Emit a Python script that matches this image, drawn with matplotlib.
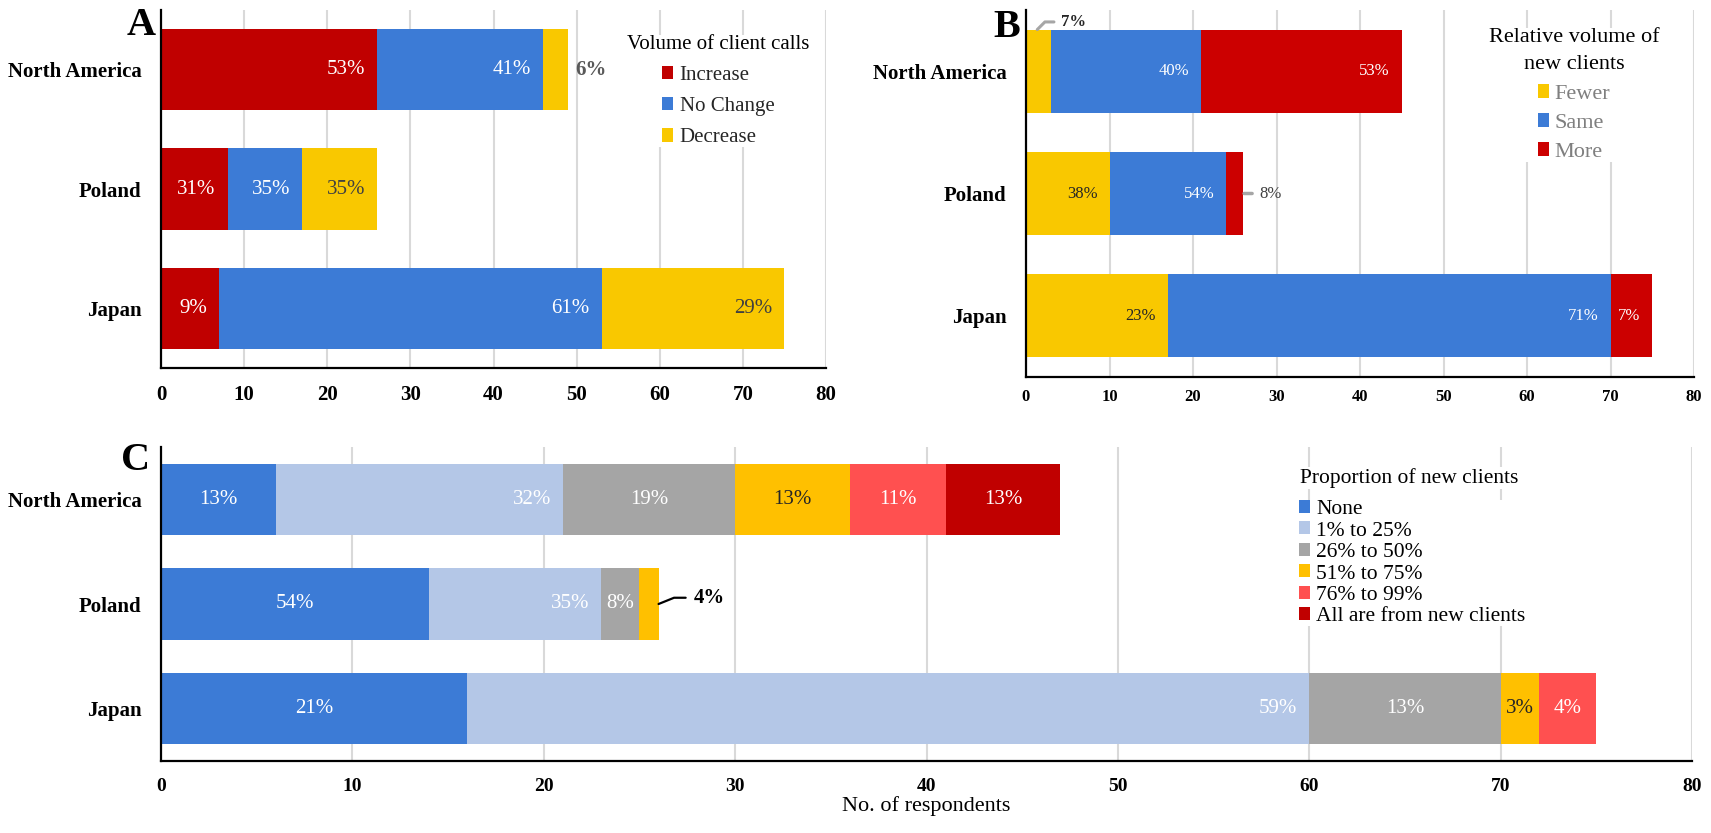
import numpy as np
import matplotlib
matplotlib.use('Agg')
import matplotlib.pyplot as plt

plt.rcParams['font.family'] = ['Liberation Serif', 'DejaVu Serif']

W, H = 1711, 833

regions = ['North America', 'Poland', 'Japan']

# A: volume of client calls (no. of respondents)
calls_names = ['Increase', 'No Change', 'Decrease']
calls_increase = [26, 8, 7]
calls_nochange = [20, 9, 46]
calls_decrease = [3, 9, 22]

# B: relative volume of new clients
new_names = ['Fewer', 'Same', 'More']
new_fewer = [3, 10, 17]
new_same = [18, 14, 53]
new_more = [24, 2, 5]

# C: proportion of new clients
prop_names = ['None', '1% to 25%', '26% to 50%', '51% to 75%', '76% to 99%',
              'All are from new clients']
prop_none = [6, 14, 16]
prop_1_25 = [15, 9, 44]
prop_26_50 = [9, 2, 10]
prop_51_75 = [6, 1, 2]
prop_76_99 = [5, 0, 3]
prop_all = [6, 0, 0]

xticks = list(range(0, 81, 10))


def fx(px):
    return px / W


def fy(py):
    return 1 - py / H


def add_axes(fig, left, top, right, bottom):
    return fig.add_axes([fx(left), fy(bottom), fx(right) - fx(left), (bottom - top) / H])


def pct(v, total):
    return '%d%%' % int(100.0 * v / total + 0.5)


def stacked(ax, series, names, colors, txtcolors, modes, fs, skip=()):
    totals = np.sum(np.array(series, dtype=float), axis=0)
    left = np.zeros(len(regions))
    containers = []
    for i, vals in enumerate(series):
        vals = np.array(vals, dtype=float)
        bars = ax.barh(regions, vals, left=left, height=0.68, color=colors[i],
                       label=names[i], zorder=2)
        containers.append(bars)
        for j, b in enumerate(bars):
            if vals[j] == 0 or (i, j) in skip:
                continue
            yc = b.get_y() + b.get_height() / 2
            txt = pct(vals[j], totals[j])
            if modes[i] == 'end':
                ax.annotate(txt, xy=(b.get_x() + b.get_width(), yc), xytext=(-8.6, 0),
                            textcoords='offset points', ha='right', va='center',
                            fontsize=fs, color=txtcolors[i], zorder=3)
            else:
                ax.text(b.get_x() + b.get_width() / 2, yc, txt, ha='center', va='center',
                        fontsize=fs, color=txtcolors[i], zorder=3)
        left += vals
    return containers, totals


def style(ax, tick_fs, tick_pad):
    ax.set_xlim(0, 80)
    ax.set_ylim(2.5, -0.5)
    ax.set_xticks(xticks)
    ax.grid(axis='x', color='#D9D9D9', lw=1.5)
    ax.set_axisbelow(True)
    for s in ['top', 'right']:
        ax.spines[s].set_visible(False)
    for s in ['left', 'bottom']:
        ax.spines[s].set_color('black')
        ax.spines[s].set_linewidth(1.6)
        ax.spines[s].set_zorder(4)
    ax.tick_params(axis='x', length=0, pad=tick_pad, labelsize=tick_fs)
    ax.tick_params(axis='y', length=0, pad=14, labelsize=15)
    for lab in ax.get_xticklabels() + ax.get_yticklabels():
        lab.set_fontweight('bold')


fig = plt.figure(figsize=(W / 100, H / 100), dpi=100)

# ---------------- A ----------------
axA = add_axes(fig, 161, 10, 826, 368)
colA = ['#C00000', '#3C7BD6', '#F9C800']
contA, totA = stacked(axA, [calls_increase, calls_nochange, calls_decrease], calls_names, colA,
                      ['white', 'white', '#404040'], ['end', 'end', 'end'], 15, skip=[(2, 0)])
b = contA[2][0]
axA.annotate(pct(calls_decrease[0], totA[0]), xy=(b.get_x() + b.get_width(), b.get_y() + b.get_height() / 2),
             xytext=(5, 0), textcoords='offset points', ha='left', va='center',
             fontsize=15, fontweight='bold', color='#595959')
style(axA, 15, 12.5)
legA = axA.legend(loc='upper left', bbox_to_anchor=(fx(627), fy(35)), bbox_transform=fig.transFigure,
                  title='Volume of client calls', fontsize=15, title_fontsize=15, frameon=True,
                  facecolor='white', edgecolor='none', framealpha=1, fancybox=False, borderpad=0,
                  borderaxespad=0, handlelength=0.55, handleheight=0.6, handletextpad=0.3,
                  labelspacing=0.58, labelcolor='#262626')
legA.set_zorder(5)
fig.text(fx(127), fy(35), 'A', fontsize=29, fontweight='bold', ha='left', va='baseline')

# ---------------- B ----------------
axB = add_axes(fig, 1026, 10, 1694, 377)
colB = ['#F9C800', '#3C7BD6', '#CC0000']
contB, totB = stacked(axB, [new_fewer, new_same, new_more], new_names, colB,
                      ['#262626', 'white', 'white'], ['end', 'end', 'end'], 12,
                      skip=[(0, 0), (2, 1)])
b = contB[0][0]
axB.annotate(pct(new_fewer[0], totB[0]), xy=(b.get_x() + b.get_width() * 0.45, b.get_y()),
             xytext=(17, 5.5), textcoords='offset points', ha='left', va='center',
             fontsize=12, fontweight='bold', color='#262626',
             arrowprops=dict(arrowstyle='-', color='#A6A6A6', lw=2.2,
                             connectionstyle='angle,angleA=180,angleB=45', shrinkA=3, shrinkB=0))
b = contB[2][1]
axB.annotate(pct(new_more[1], totB[1]), xy=(b.get_x() + b.get_width(), b.get_y() + b.get_height() / 2),
             xytext=(11.5, 0), textcoords='offset points', ha='left', va='center',
             fontsize=12, color='#404040',
             arrowprops=dict(arrowstyle='-', color='#A6A6A6', lw=2.5, shrinkA=3, shrinkB=0.7))
style(axB, 12, 8.6)
legB = axB.legend(loc='upper left', bbox_to_anchor=(fx(1489), fy(28)), bbox_transform=fig.transFigure,
                  title='Relative volume of\nnew clients', fontsize=16, title_fontsize=16, frameon=True,
                  facecolor='white', edgecolor='none', framealpha=1, fancybox=False, borderpad=0,
                  borderaxespad=0, handlelength=0.5, handleheight=0.6, handletextpad=0.25,
                  labelspacing=0.42, labelcolor='#7F7F7F')
legB.get_title().set_multialignment('center')
legB.get_title().set_linespacing(1.6)
legB.set_zorder(5)
fig.text(fx(993), fy(37), 'B', fontsize=29, fontweight='bold', ha='left', va='baseline')

# ---------------- C ----------------
axC = add_axes(fig, 161, 447, 1692, 761)
colC = ['#3C7BD6', '#B4C7E7', '#A5A5A5', '#FFC000', '#FF5050', '#C00000']
contC, totC = stacked(axC, [prop_none, prop_1_25, prop_26_50, prop_51_75, prop_76_99, prop_all],
                      prop_names, colC, ['white', 'white', 'white', '#262626', 'white', 'white'],
                      ['center', 'end', 'center', 'center', 'center', 'center'], 15, skip=[(3, 1)])
b = contC[3][1]
axC.annotate(pct(prop_51_75[1], totC[1]), xy=(b.get_x() + b.get_width(), b.get_y() + b.get_height() / 2),
             xytext=(25.5, 4.5), textcoords='offset points', ha='left', va='center',
             fontsize=15, fontweight='bold', color='black',
             arrowprops=dict(arrowstyle='-', color='black', lw=1.6,
                             connectionstyle='angle,angleA=180,angleB=22', shrinkA=4, shrinkB=0))
style(axC, 14, 12)
axC.set_xlabel('No. of respondents', fontsize=16)
axC.xaxis.set_label_coords(0.5, -0.112)
legC = axC.legend(loc='upper left', bbox_to_anchor=(fx(1299), fy(500)), bbox_transform=fig.transFigure,
                  fontsize=15.5, frameon=True,
                  facecolor='white', edgecolor='none', framealpha=1, fancybox=False, borderpad=0,
                  borderaxespad=0, handlelength=0.5, handleheight=0.55, handletextpad=0.3,
                  labelspacing=0.11, labelcolor='black')
legC.set_zorder(5)
fig.text(fx(1300), fy(483), 'Proportion of new clients', fontsize=15.5, ha='left', va='baseline',
         bbox=dict(facecolor='white', edgecolor='none', pad=1), zorder=5)
fig.text(fx(121), fy(470), 'C', fontsize=29, fontweight='bold', ha='left', va='baseline')

fig.savefig('out.png', dpi=100)
